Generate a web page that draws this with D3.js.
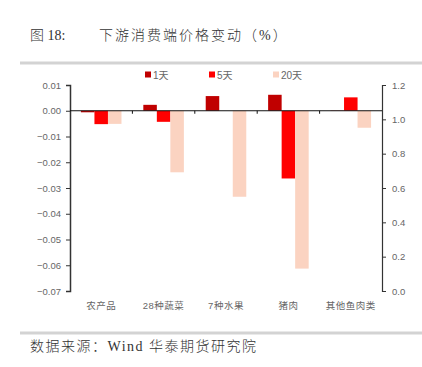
<!DOCTYPE html>
<html>
<head>
<meta charset="utf-8">
<script src="https://cdn.jsdelivr.net/npm/d3@7"></script>
<style>
  body { margin: 0; background: #fff; }
  svg text { font-family: "Liberation Sans", "Noto Sans CJK SC", sans-serif; }
  .serif { font-family: "Liberation Serif", "Noto Sans CJK SC", serif !important; font-weight: 300; }
</style>
</head>
<body>
<div id="chart"></div>
<script>
const categories = ["农产品", "28种蔬菜", "7种水果", "猪肉", "其他鱼肉类"]
const seriesNames = ["1天", "5天", "20天"]
const day1 = [-0.0006, 0.0023, 0.0057, 0.0062, 0.0001]
const day5 = [-0.0052, -0.0043, 0.0, -0.0263, 0.0052]
const day20 = [-0.0051, -0.0239, -0.0334, -0.0613, -0.0066]
const leftTicks = [0.01, 0.00, -0.01, -0.02, -0.03, -0.04, -0.05, -0.06, -0.07]
const rightTicks = [0.0, 0.2, 0.4, 0.6, 0.8, 1.0, 1.2]
const colors = ["#C00000", "#FF0000", "#FBD3C1"]

const width = 422, height = 367
const plot = {left: 70, right: 382, top: 85, bottom: 291}

const svg = d3.select("#chart").append("svg")
  .attr("width", width)
  .attr("height", height)

// title
svg.append("text").attr("class", "serif")
  .attr("x", 30).attr("y", 40)
  .attr("font-size", 14).attr("fill", "#333")
  .text("图 18:")
svg.append("text").attr("class", "serif")
  .attr("x", 99).attr("y", 40)
  .attr("font-size", 14).attr("fill", "#333")
  .attr("letter-spacing", 2)
  .text("下游消费端价格变动（%）")

// grey rules
svg.append("rect").attr("x", 20).attr("y", 61.5).attr("width", 402).attr("height", 3).attr("fill", "#D3D3D3")
svg.append("rect").attr("x", 20).attr("y", 331.5).attr("width", 402).attr("height", 3).attr("fill", "#D3D3D3")

// footer
svg.append("text").attr("class", "serif")
  .attr("x", 30).attr("y", 351)
  .attr("font-size", 14).attr("fill", "#333")
  .attr("letter-spacing", 1.5)
  .text("数据来源：Wind 华泰期货研究院")

const y = d3.scaleLinear().domain([-0.07, 0.01]).range([plot.bottom, plot.top])
const yRight = d3.scaleLinear().domain([0, 1.2]).range([plot.bottom, plot.top])
const x0 = d3.scaleBand().domain(categories).range([plot.left, plot.right]).paddingInner(0.35).paddingOuter(0.175)
const x1 = d3.scaleBand().domain(seriesNames).range([0, x0.bandwidth()])
const xCat = d3.scaleBand().domain(categories).range([plot.left, plot.right])

const table = seriesNames.map((s, i) => ({name: s, color: colors[i], values: [day1, day5, day20][i]}))

// bars
table.forEach(s => {
  svg.append("g").selectAll("rect")
    .data(s.values)
    .join("rect")
    .attr("x", (d, i) => x0(categories[i]) + x1(s.name))
    .attr("width", x1.bandwidth())
    .attr("y", d => y(Math.max(0, d)))
    .attr("height", d => Math.abs(y(d) - y(0)))
    .attr("fill", s.color)
})

// left axis
const leftAxis = svg.append("g")
  .attr("transform", `translate(${plot.left},0)`)
  .call(d3.axisLeft(y).tickValues(leftTicks).tickFormat(d3.format(".2f")).tickSize(4).tickPadding(5))
leftAxis.select(".domain").attr("stroke", "#333").attr("stroke-width", 1.5)
leftAxis.selectAll(".tick line").attr("stroke", "#333")
leftAxis.selectAll("text").attr("fill", "#666").attr("font-size", 9.5)

// right axis
const rightAxis = svg.append("g")
  .attr("transform", `translate(${plot.right},0)`)
  .call(d3.axisRight(yRight).tickValues(rightTicks).tickFormat(d3.format(".1f")).tickSize(4).tickPadding(6))
rightAxis.select(".domain").attr("stroke", "#333").attr("stroke-width", 1.2)
rightAxis.selectAll(".tick line").attr("stroke", "#333")
rightAxis.selectAll("text").attr("fill", "#666").attr("font-size", 9.5)

// zero line with category ticks
svg.append("line")
  .attr("x1", plot.left).attr("x2", plot.right)
  .attr("y1", y(0)).attr("y2", y(0))
  .attr("stroke", "#111").attr("stroke-width", 1.2)
svg.append("g").selectAll("line")
  .data(categories.slice(1))
  .join("line")
  .attr("x1", d => xCat(d)).attr("x2", d => xCat(d))
  .attr("y1", y(0)).attr("y2", y(0) + 3)
  .attr("stroke", "#111")

// category labels
svg.append("g").selectAll("text")
  .data(categories)
  .join("text")
  .attr("x", d => xCat(d) + xCat.bandwidth() / 2)
  .attr("y", 309)
  .attr("text-anchor", "middle")
  .attr("font-size", 9.5)
  .attr("letter-spacing", 0.5)
  .attr("fill", "#666")
  .text(d => d)

// legend
const legendX = [145, 209, 273]
const legend = svg.append("g").selectAll("g")
  .data(table)
  .join("g")
  .attr("transform", (d, i) => `translate(${legendX[i]},71.5)`)
legend.append("rect").attr("width", 6).attr("height", 6).attr("fill", d => d.color)
legend.append("text")
  .attr("x", 8).attr("y", 7)
  .attr("font-size", 10).attr("fill", "#666")
  .text(d => d.name)
</script>
</body>
</html>
